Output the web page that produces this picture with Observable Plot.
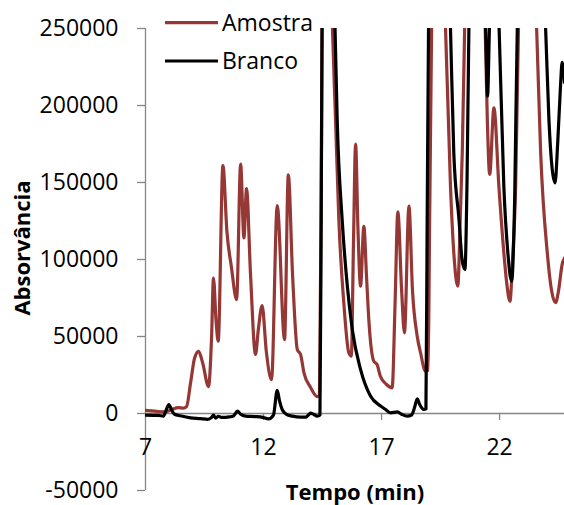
<!DOCTYPE html>
<html>
<head>
<meta charset="utf-8">
<script src="https://cdn.jsdelivr.net/npm/d3@7"></script>
<script src="https://cdn.jsdelivr.net/npm/@observablehq/plot@0.6"></script>
<style>
  html, body { margin: 0; padding: 0; background: #fff; }
  #wrap { position: relative; width: 564px; height: 505px; font-family: "Open Sans", sans-serif; }
  #legend { position: absolute; left: 0; top: 0; pointer-events: none; }
</style>
</head>
<body>
<div id="wrap"></div>
<script>
// ---- Data ----
const seriesNames = ["Amostra", "Branco"];
const seriesColors = ["#953735", "#000000"];

// Amostra (sample) — time (min) and absorbance
const tA = [7.0, 7.4, 7.85, 8.1, 8.4, 8.6, 8.74, 8.91, 9.08, 9.25,
  9.42, 9.67, 9.8, 9.88, 9.99, 10.08, 10.28, 10.45, 10.64, 10.86,
  11.03, 11.17, 11.28, 11.45, 11.66, 11.78, 11.94, 12.12, 12.34, 12.58,
  12.89, 13.05, 13.23, 13.43, 13.57, 13.71, 13.99, 14.28, 14.37, 14.44,
  14.48, 14.65, 14.92, 15.05, 15.19, 15.4, 15.61, 15.72, 15.81, 15.9,
  16.0, 16.11, 16.25, 16.36, 16.46, 16.67, 16.81, 16.95, 17.2, 17.45,
  17.57, 17.69, 17.85, 17.97, 18.16, 18.31, 18.51, 18.65, 18.86, 18.97,
  19.04, 19.12, 19.4, 19.71, 19.92, 20.06, 20.23, 20.34, 20.42, 20.52,
  20.9, 21.39, 21.48, 21.58, 21.76, 21.97, 22.18, 22.3, 22.44, 22.55,
  22.68, 22.8, 23.2, 23.57, 23.74, 24.02, 24.2, 24.37, 24.5, 24.65,
  24.75];
const vA = [2000, 1500, 1000, 2500, 3800, 3500, 4500, 20000, 36000, 40400,
  33000, 17500, 50000, 88000, 60000, 47000, 161000, 118000, 95000, 74000,
  162000, 114000, 146000, 90000, 38300, 54500, 70000, 40000, 22000, 135000,
  48000, 155000, 90000, 41600, 38300, 26600, 17000, 11000, 12000, 130000,
  250000, 420000, 250000, 191000, 126000, 72000, 39600, 37200, 110000, 175000,
  120000, 82700, 121600, 90000, 61000, 34000, 31800, 24200, 19000, 16700,
  70000, 131000, 80000, 52400, 134600, 80000, 50200, 39600, 27500, 28000,
  130000, 250000, 450000, 250000, 147600, 104500, 82700, 130000, 170000, 250000,
  380000, 250000, 191000, 155200, 198500, 147600, 104500, 85000, 72900, 100000,
  147600, 250000, 380000, 250000, 169300, 104500, 80000, 71900, 80000, 96800,
  101000];

// Branco (blank)
const tB = [7.0, 7.55, 7.76, 7.87, 7.99, 8.1, 8.23, 8.48, 8.91, 9.33,
  9.63, 9.8, 9.88, 9.97, 10.09, 10.22, 10.39, 10.56, 10.73, 10.9,
  11.03, 11.24, 11.66, 11.96, 12.21, 12.42, 12.58, 12.68, 12.79, 12.97,
  13.22, 13.57, 13.78, 13.9, 13.99, 14.12, 14.28, 14.39, 14.44, 14.48,
  14.7, 15.03, 15.12, 15.33, 15.55, 15.76, 16.11, 16.53, 16.96, 17.17,
  17.38, 17.67, 17.85, 18.09, 18.27, 18.4, 18.51, 18.61, 18.79, 18.88,
  18.93, 18.99, 19.4, 19.92, 20.06, 20.28, 20.41, 20.53, 20.62, 20.7,
  21.0, 21.41, 21.49, 21.57, 21.78, 21.98, 22.18, 22.35, 22.51, 22.64,
  22.75, 23.3, 23.95, 24.09, 24.22, 24.35, 24.46, 24.58, 24.65, 24.75];
const vB = [-1000, -1200, -1700, 2000, 5800, 2500, -500, -1500, -2800, -3300,
  -3800, -2500, -1000, -3000, -1800, -2500, -2500, -2200, -1500, 1500,
  -500, -1700, -2000, -2500, -3500, -1000, 15000, 8000, 2600, -500,
  -1700, -2400, -2400, -1000, 300, -500, -1700, -1000, 120000, 250000,
  500000, 250000, 191000, 126000, 82700, 54500, 28600, 11300, 4800, 2600,
  450, 1000, -500, -1700, -1000, 4000, 9500, 6000, 2600, 3000,
  120000, 250000, 500000, 250000, 169300, 126000, 100000, 93500, 150000, 250000,
  400000, 250000, 206000, 250000, 320000, 250000, 147600, 104500, 85900, 140000,
  250000, 400000, 250000, 191000, 160000, 149800, 175000, 212500, 228000, 215000];

const yTicks = [-50000, 0, 50000, 100000, 150000, 200000, 250000];
const xLabels = [7, 12, 17, 22];
const xTickMarks = [12, 17, 22];
const xTitle = "Tempo (min)";
const yTitle = "Absorvância";

// ---- Build tables ----
const amostra = tA.map((t, i) => ({t, v: vA[i]}));
const branco = tB.map((t, i) => ({t, v: vB[i]}));

const axisGray = "#868686";
const FONT = "Open Sans";

const chart = Plot.plot({
  width: 564,
  height: 505,
  marginTop: 28,
  marginBottom: 15,
  marginLeft: 145,
  marginRight: 0,
  style: {fontFamily: FONT, background: "white", color: "black", overflow: "visible"},
  x: {domain: [7, 24.75], axis: null},
  y: {domain: [-50000, 250000], axis: null},
  marks: [
    Plot.ruleX([7], {stroke: axisGray, strokeWidth: 1.3}),
    Plot.ruleY([0], {stroke: axisGray, strokeWidth: 1.3}),
    Plot.ruleX(xTickMarks, {x: d => d, y1: 0, y2: -4500, stroke: axisGray, strokeWidth: 1.3}),
    Plot.axisY(yTicks, {
      anchor: "left", tickSize: 8, tickPadding: 19, stroke: axisGray, strokeWidth: 1.3,
      fill: "black", fontSize: 23, tickFormat: d => String(d), label: null
    }),
    Plot.text(xLabels, {x: d => d, y: 0, dy: 34, text: d => String(d), fontSize: 23, lineAnchor: "middle", fill: "black"}),
    Plot.line(amostra, {x: "t", y: "v", stroke: seriesColors[0], strokeWidth: 3.2, curve: "monotone-x", clip: true}),
    Plot.line(branco, {x: "t", y: "v", stroke: seriesColors[1], strokeWidth: 3.2, curve: "monotone-x", clip: true}),
    Plot.text([yTitle], {frameAnchor: "left", textAnchor: "middle", rotate: -90, dx: -123, dy: -11.5, fontSize: 22, fontWeight: "bold", fill: "black", lineAnchor: "middle"}),
    Plot.text([xTitle], {frameAnchor: "bottom", textAnchor: "middle", dy: 2, fontSize: 22, fontWeight: "bold", fill: "black", lineAnchor: "middle"})
  ]
});

const wrap = document.getElementById("wrap");
wrap.appendChild(chart);

// ---- Legend (overlaid at the top, as in the reference) ----
const ns = "http://www.w3.org/2000/svg";
const leg = document.createElementNS(ns, "svg");
leg.setAttribute("id", "legend");
leg.setAttribute("width", 564);
leg.setAttribute("height", 80);
const rowY = [22.7, 61];
seriesNames.forEach((name, i) => {
  const ln = document.createElementNS(ns, "line");
  ln.setAttribute("x1", 165); ln.setAttribute("x2", 218);
  ln.setAttribute("y1", rowY[i]); ln.setAttribute("y2", rowY[i]);
  ln.setAttribute("stroke", seriesColors[i]);
  ln.setAttribute("stroke-width", 3.2);
  leg.appendChild(ln);
  const tx = document.createElementNS(ns, "text");
  tx.setAttribute("x", 222); tx.setAttribute("y", rowY[i]);
  tx.setAttribute("dy", "0.35em");
  tx.setAttribute("font-family", FONT);
  tx.setAttribute("font-size", 23);
  tx.setAttribute("fill", "black");
  tx.textContent = name;
  leg.appendChild(tx);
});
wrap.appendChild(leg);
</script>
</body>
</html>
